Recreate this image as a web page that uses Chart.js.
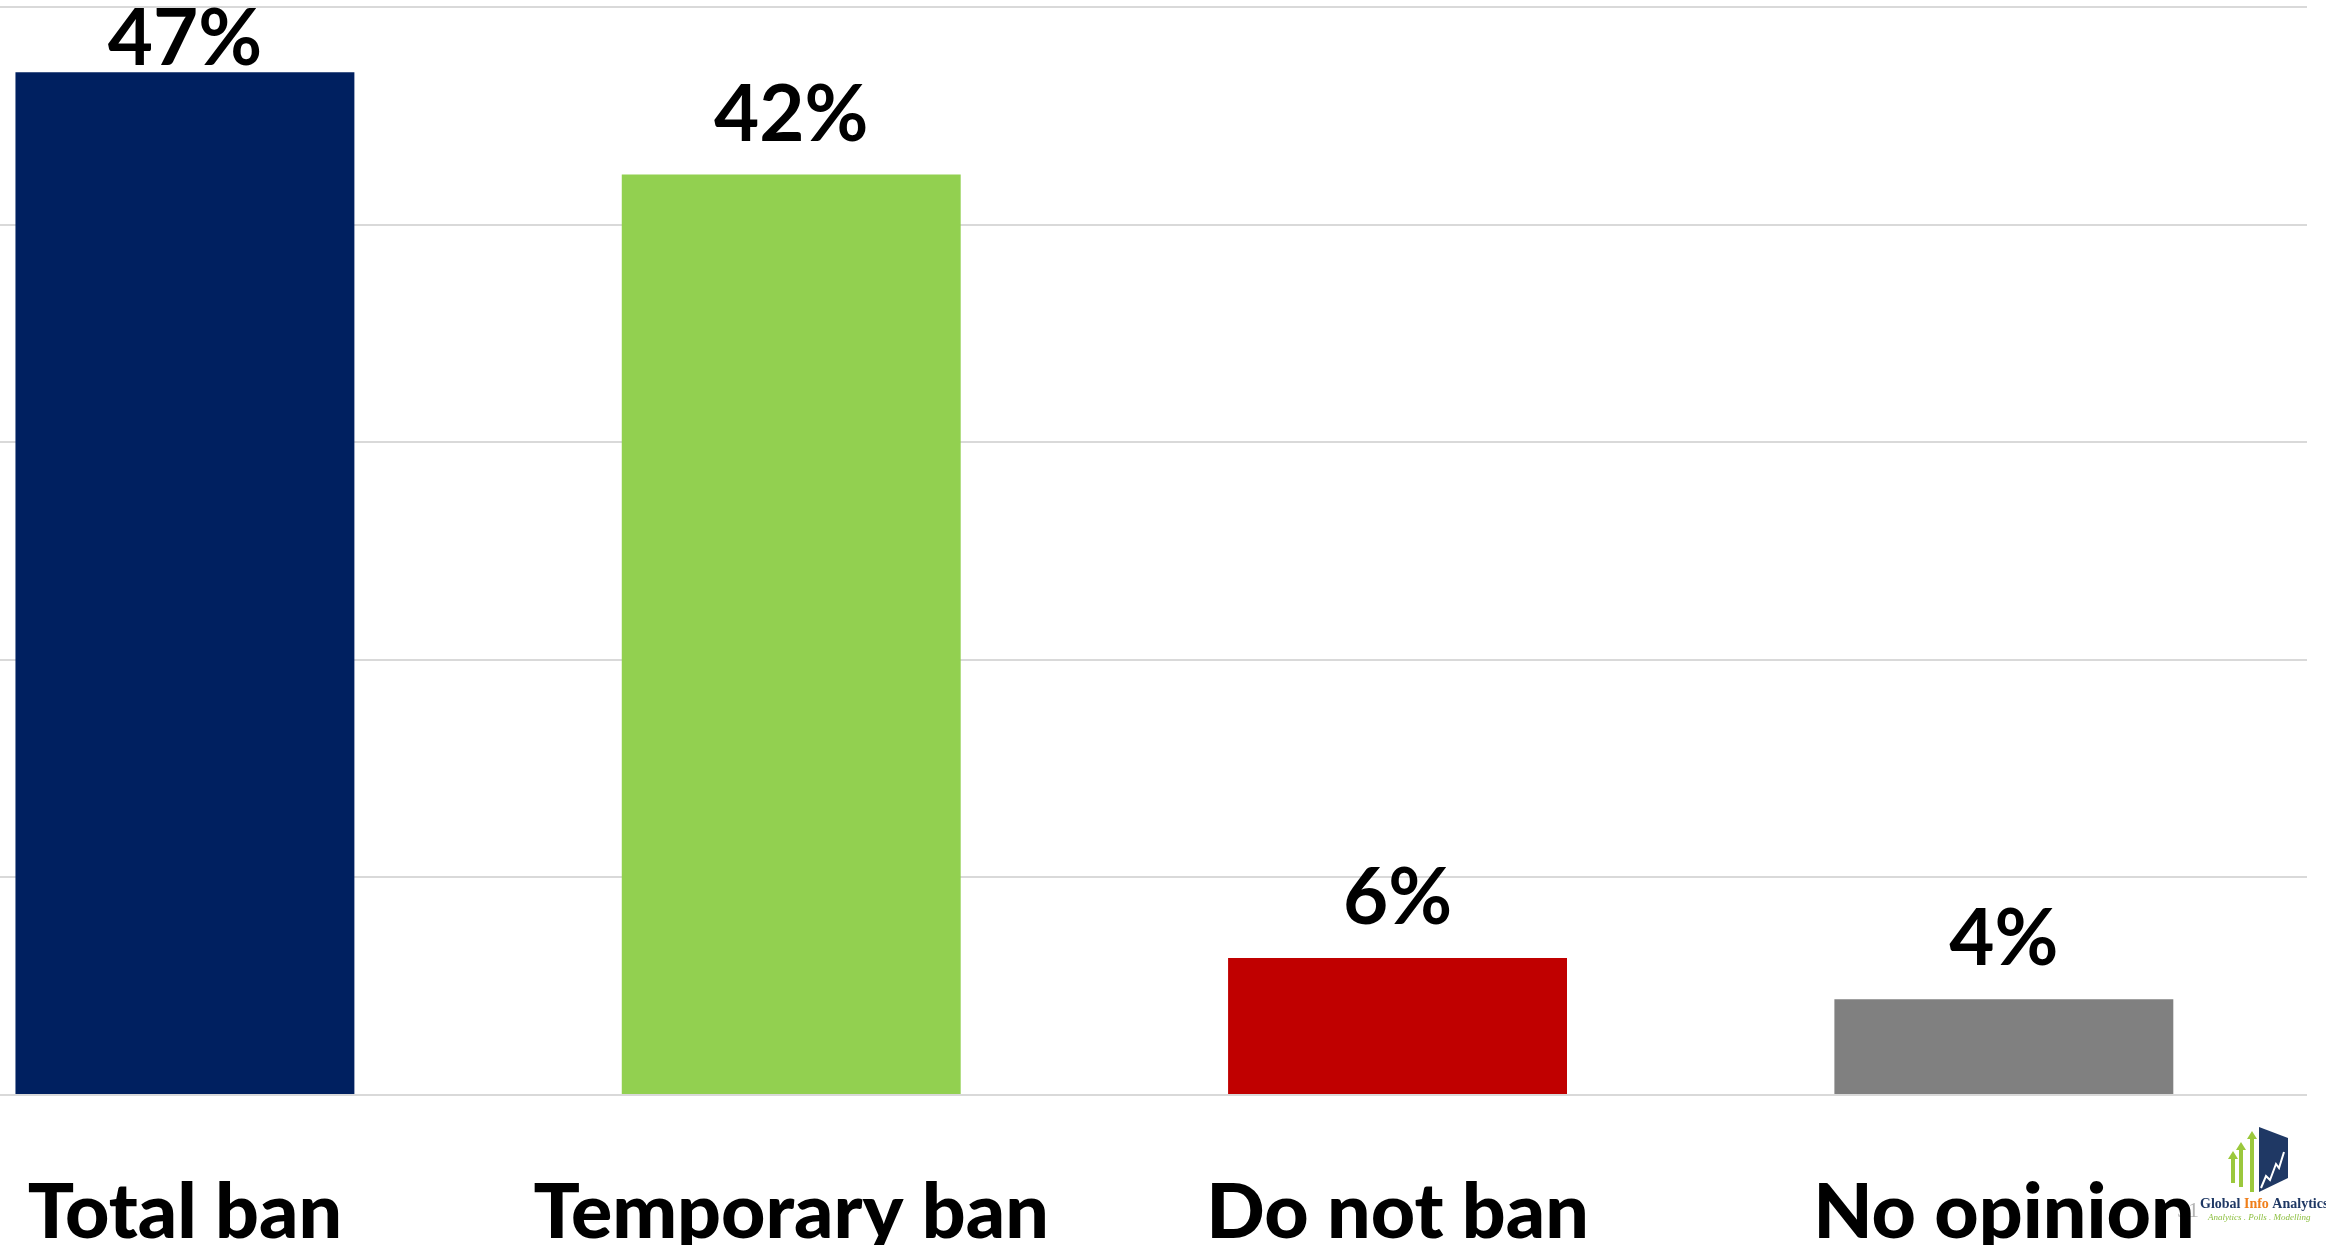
<!DOCTYPE html>
<html>
<head>
<meta charset="utf-8">
<title>Ban poll</title>
<script src="https://cdn.jsdelivr.net/npm/chart.js@4.4.1/dist/chart.umd.min.js"></script>
<style>
  html, body { margin: 0; padding: 0; background: #ffffff; overflow: hidden; }
  canvas { display: block; }
</style>
</head>
<body>
<canvas id="banChart" width="2326" height="1245" style="width:2326px;height:1245px"></canvas>
<script>
const ctx = document.getElementById("banChart").getContext("2d");

// chart data
const categories = ["Total ban", "Temporary ban", "Do not ban", "No opinion"];
const shares = [47.0, 42.3, 6.3, 4.4];
const barColors = ["#002060", "#92d050", "#c00000", "#808080"];
const yTicks = [0, 10, 20, 30, 40, 50];

const FONT = "Lato, 'Open Sans', sans-serif";

// percentage labels above the bars
const valueLabels = {
  id: "valueLabels",
  afterDatasetsDraw(chart) {
    const c = chart.ctx;
    const meta = chart.getDatasetMeta(0);
    c.save();
    c.font = "bold 78px " + FONT;
    c.fillStyle = "#000000";
    c.textAlign = "center";
    c.textBaseline = "alphabetic";
    meta.data.forEach((bar, i) => {
      // keep the top label inside the plot, like the original
      const y = Math.max(bar.y - 34, chart.chartArea.top + 58);
      c.fillText(Math.round(shares[i]) + "%", bar.x, y);
    });
    c.restore();
  },
};

// small company mark in the bottom right corner
const logo = {
  id: "logo",
  beforeDraw(chart) {
    const c = chart.ctx;
    c.save();
    c.font = "22px 'Liberation Serif', serif";
    c.fillStyle = "#b4b4b4";
    c.textBaseline = "alphabetic";
    c.fillText("51", 2177, 1217);
    c.restore();
  },
  afterDraw(chart) {
    const c = chart.ctx;
    c.save();
    // green arrows
    c.fillStyle = "#9bc83c";
    [[2233, 1151, 1183], [2241, 1142, 1187], [2252, 1131, 1192]].forEach(([x, top, bottom]) => {
      c.fillRect(x - 2, top + 6, 4, bottom - top - 6);
      c.beginPath();
      c.moveTo(x - 5, top + 8);
      c.lineTo(x, top);
      c.lineTo(x + 5, top + 8);
      c.closePath();
      c.fill();
    });
    // blue panel
    c.fillStyle = "#1f3864";
    c.beginPath();
    c.moveTo(2259, 1127);
    c.lineTo(2288, 1138);
    c.lineTo(2288, 1178);
    c.lineTo(2259, 1192);
    c.closePath();
    c.fill();
    // white rising line
    c.strokeStyle = "#ffffff";
    c.lineWidth = 2;
    c.beginPath();
    c.moveTo(2261, 1188);
    c.lineTo(2266, 1176);
    c.lineTo(2270, 1180);
    c.lineTo(2276, 1164);
    c.lineTo(2279, 1168);
    c.lineTo(2284, 1152);
    c.stroke();
    // names
    c.textBaseline = "alphabetic";
    c.font = "bold 14px 'Liberation Serif', serif";
    let x = 2200;
    [["Global ", "#1f3864"], ["Info ", "#f07f1a"], ["Analytics", "#1f3864"]].forEach(([t, col]) => {
      c.fillStyle = col;
      c.fillText(t, x, 1208);
      x += c.measureText(t).width;
    });
    c.font = "italic 9px 'Liberation Serif', serif";
    c.fillStyle = "#8cbf3f";
    c.fillText("Analytics . Polls . Modelling", 2208, 1220);
    c.restore();
  },
};

new Chart(ctx, {
  type: "bar",
  data: {
    datasets: [
      {
        data: shares.map((v, i) => ({ x: i, y: v })),
        backgroundColor: barColors,
        borderWidth: 0,
        categoryPercentage: 1,
        barPercentage: 0.559,
      },
    ],
  },
  options: {
    responsive: false,
    devicePixelRatio: 1,
    animation: false,
    layout: { padding: { top: 7, right: 19, left: 0, bottom: 0 } },
    plugins: {
      legend: { display: false },
      tooltip: { enabled: false },
    },
    scales: {
      x: {
        type: "linear",
        min: -0.305,
        max: 3.5,
        offset: false,
        grid: { display: false },
        border: { display: false },
        afterBuildTicks: (axis) => {
          axis.ticks = categories.map((c, i) => ({ value: i }));
        },
        afterFit: (axis) => {
          axis.height = 150;
          axis.paddingLeft = 0;
          axis.paddingRight = 0;
        },
        ticks: {
          autoSkip: false,
          maxRotation: 0,
          padding: 64,
          color: "#000000",
          font: { family: FONT, size: 77, weight: "900" },
          callback: (value, index) => categories[index],
        },
      },
      y: {
        min: 0,
        max: 50,
        afterBuildTicks: (axis) => {
          axis.ticks = yTicks.map((v) => ({ value: v }));
        },
        grid: { color: "#d9d9d9", lineWidth: 2, drawTicks: false },
        border: { display: false },
        ticks: { display: false },
      },
    },
  },
  plugins: [valueLabels, logo],
});
</script>
</body>
</html>
